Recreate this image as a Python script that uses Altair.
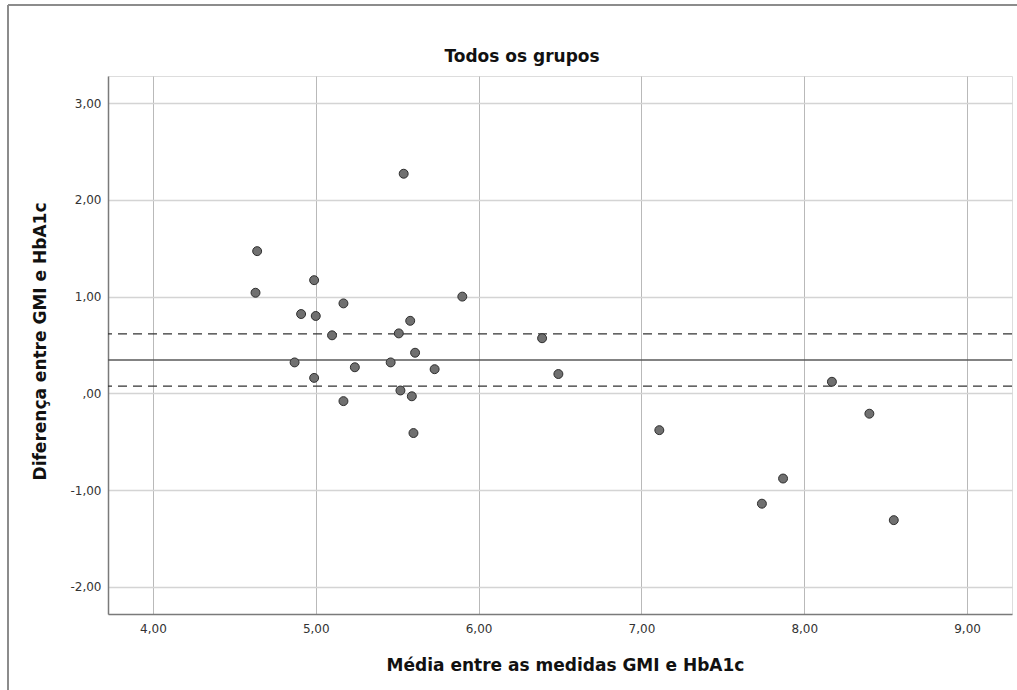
import altair as alt
import pandas as pd

# Bland-Altman: mean of the two measures vs. their difference
media = [5.54, 4.64, 4.63, 4.99, 4.91, 5.00, 5.17, 5.10, 5.90, 5.58, 5.51, 5.61,
         4.87, 5.46, 5.24, 5.73, 4.99, 5.52, 5.59, 5.17, 5.60, 6.39, 6.49, 8.17,
         8.40, 7.87, 7.74, 8.55, 7.11]
diferenca = [2.27, 1.47, 1.04, 1.17, 0.82, 0.80, 0.93, 0.60, 1.00, 0.75, 0.62, 0.42,
             0.32, 0.32, 0.27, 0.25, 0.16, 0.03, -0.03, -0.08, -0.41, 0.57, 0.20, 0.12,
             -0.21, -0.88, -1.14, -1.31, -0.38]

linha_media = [0.345]
linhas_ic = [0.614, 0.076]

x_ticks = [4, 5, 6, 7, 8, 9]
y_ticks = [-2, -1, 0, 1, 2, 3]

titulo = ["Todos os grupos"]

pontos_df = pd.DataFrame({"media": media, "diferenca": diferenca})
media_df = pd.DataFrame({"v": linha_media})
ic_df = pd.DataFrame({"v": linhas_ic})
titulo_df = pd.DataFrame({"t": titulo})
vazio = pd.DataFrame({"a": [0]})

FONT = "DejaVu Sans"
label_expr = ("datum.value == 0 ? ',00' : "
              "replace((datum.value < 0 ? '-' : '') + format(abs(datum.value), '.2f'), '.', ',')")

x_scale = alt.Scale(domain=[3.724, 9.276], nice=False, zero=False)
y_scale = alt.Scale(domain=[-2.28, 3.28], nice=False, zero=False)

x_axis = alt.Axis(
    values=x_ticks, labelExpr=label_expr, ticks=False, grid=True,
    gridColor="#b9b9b9", gridWidth=1, domainColor="#7a7a7a", domainWidth=1.5,
    labelFont=FONT, labelFontSize=12, labelColor="#333", labelPadding=9,
    title="Média entre as medidas GMI e HbA1c", titleFont=FONT, titleFontSize=17,
    titleFontWeight="bold", titleColor="#111", titleX=457, titleY=51,
    titleAlign="center", titleBaseline="middle",
)
y_axis = alt.Axis(
    values=y_ticks, labelExpr=label_expr, ticks=False, grid=True,
    gridColor="#d4d4d4", gridWidth=1.5, domainColor="#7a7a7a", domainWidth=1.5,
    labelFont=FONT, labelFontSize=12, labelColor="#333", labelPadding=7,
    title="Diferença entre GMI e HbA1c", titleFont=FONT, titleFontSize=17,
    titleFontWeight="bold", titleColor="#111", titleX=-68, titleY=265,
    titleAngle=-90, titleAlign="center", titleBaseline="middle",
)

pontos = alt.Chart(pontos_df).mark_point(
    filled=True, size=80, fill="#707070", stroke="#2e2e2e", strokeWidth=1, opacity=1,
).encode(
    x=alt.X("media:Q", scale=x_scale, axis=x_axis),
    y=alt.Y("diferenca:Q", scale=y_scale, axis=y_axis),
)

media_linha = alt.Chart(media_df).mark_rule(color="#5a5a5a", strokeWidth=1.5).encode(
    y=alt.Y("v:Q", scale=y_scale)
)
ic_linhas = alt.Chart(ic_df).mark_rule(color="#333", strokeWidth=1.2, strokeDash=[9, 6]).encode(
    y=alt.Y("v:Q", scale=y_scale)
)

# chart title, placed above the plot area
titulo_txt = alt.Chart(titulo_df).mark_text(
    font=FONT, fontSize=17, fontWeight="bold", color="#111",
    align="center", baseline="alphabetic",
).encode(text="t:N", x=alt.value(414), y=alt.value(-14))

# outer frame of the output window (left and top edges)
moldura_esq = alt.Chart(vazio).mark_rule(color="#8c8c8c", strokeWidth=2).encode(
    x=alt.value(-100), y=alt.value(-71), y2=alt.value(700)
)
moldura_top = alt.Chart(vazio).mark_rule(color="#8c8c8c", strokeWidth=2).encode(
    x=alt.value(-100), x2=alt.value(1000), y=alt.value(-71)
)

chart = alt.layer(
    moldura_esq, moldura_top, ic_linhas, media_linha, pontos, titulo_txt
).properties(
    width=904, height=538,
    padding={"left": 108, "top": 76, "right": 5, "bottom": 76},
    autosize=alt.AutoSizeParams(type="none"),
).configure_view(stroke=None).configure(background="white")

chart.save("out.html", embed_options={"renderer": "svg", "actions": False})
